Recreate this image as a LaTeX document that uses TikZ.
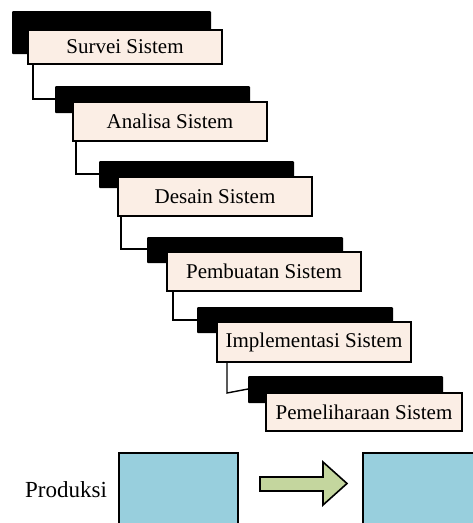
\documentclass[tikz,border=0pt]{standalone}
\usepackage{fontspec}
\setmainfont{Liberation Serif}
\usetikzlibrary{calc}
\definecolor{peach}{RGB}{251,238,229}
\definecolor{aqua}{RGB}{152,207,221}
\definecolor{olive}{RGB}{196,214,158}
\begin{document}
\begin{tikzpicture}[x=1pt,y=-1pt,
  backbar/.style={fill=black, draw=none, anchor=north west, inner sep=0pt, outer sep=0pt, rounded corners=1pt},
  stepbox/.style={fill=peach, draw=black, line width=1.5pt, anchor=north west, inner sep=0pt, outer sep=0pt,
    minimum width=194pt, minimum height=39pt, font=\fontsize{21}{24}\selectfont},
  link/.style={draw=black, line width=1.4pt},
  stage/.style={fill=aqua, draw=black, line width=1.6pt, anchor=north west, inner sep=0pt, outer sep=0pt},
  flowarrow/.style={fill=olive, draw=black, line width=1.6pt, line join=miter}]
\useasboundingbox (0,0) rectangle (473,523);
\clip (0,0) rectangle (473,523);

% dark shadow bars behind each step
\node[backbar, minimum width=199pt, minimum height=43pt] (b1) at (12,11) {};
\node[backbar, minimum width=195pt, minimum height=27pt] (b2) at (55,86) {};
\node[backbar, minimum width=195pt, minimum height=27pt] (b3) at (99,161) {};
\node[backbar, minimum width=196pt, minimum height=26pt] (b4) at (147,237) {};
\node[backbar, minimum width=196pt, minimum height=26pt] (b5) at (197,307) {};
\node[backbar, minimum width=195pt, minimum height=27pt] (b6) at (248,376) {};

% the steps of the waterfall
\node[stepbox, minimum height=34pt] (s1) at (28,30) {Survei Sistem};
\node[stepbox] (s2) at (73,102) {Analisa Sistem};
\node[stepbox] (s3) at (118,177) {Desain Sistem};
\node[stepbox] (s4) at (167,252) {Pembuatan Sistem};
\node[stepbox, minimum width=194pt, minimum height=40pt] (s5) at (217,322) {Implementasi Sistem};
\node[stepbox, minimum width=196pt, minimum height=38pt] (s6) at (266,393) {Pemeliharaan Sistem};

% links from each step down to the next
\draw[link] ($(s1.south west)+(5,0)$) |- ($(b2.north west)+(0,13)$);
\draw[link] ($(s2.south west)+(3,0)$) |- ($(b3.north west)+(0,13)$);
\draw[link] ($(s3.south west)+(3,0)$) |- ($(b4.north west)+(0,12)$);
\draw[link] ($(s4.south west)+(6,0)$) |- ($(b5.north west)+(0,13)$);
\draw[link] ($(s5.south west)+(10,0)$) -- ++(0,31) -- ($(b6.north west)+(0,13)$);

% production row
\node[anchor=base west, inner sep=0pt, font=\fontsize{23}{26}\selectfont] (lbl) at (25,497) {Produksi};
\node[stage, minimum width=119pt, minimum height=90pt] (p1) at (119,453) {};
\node[stage, minimum width=130pt, minimum height=90pt] (p2) at (363,453) {};
\draw[flowarrow] (260,477) -- (323,477) -- (323,462) -- (347,483.5) -- (323,505) -- (323,491) -- (260,491) -- cycle;
\end{tikzpicture}
\end{document}
